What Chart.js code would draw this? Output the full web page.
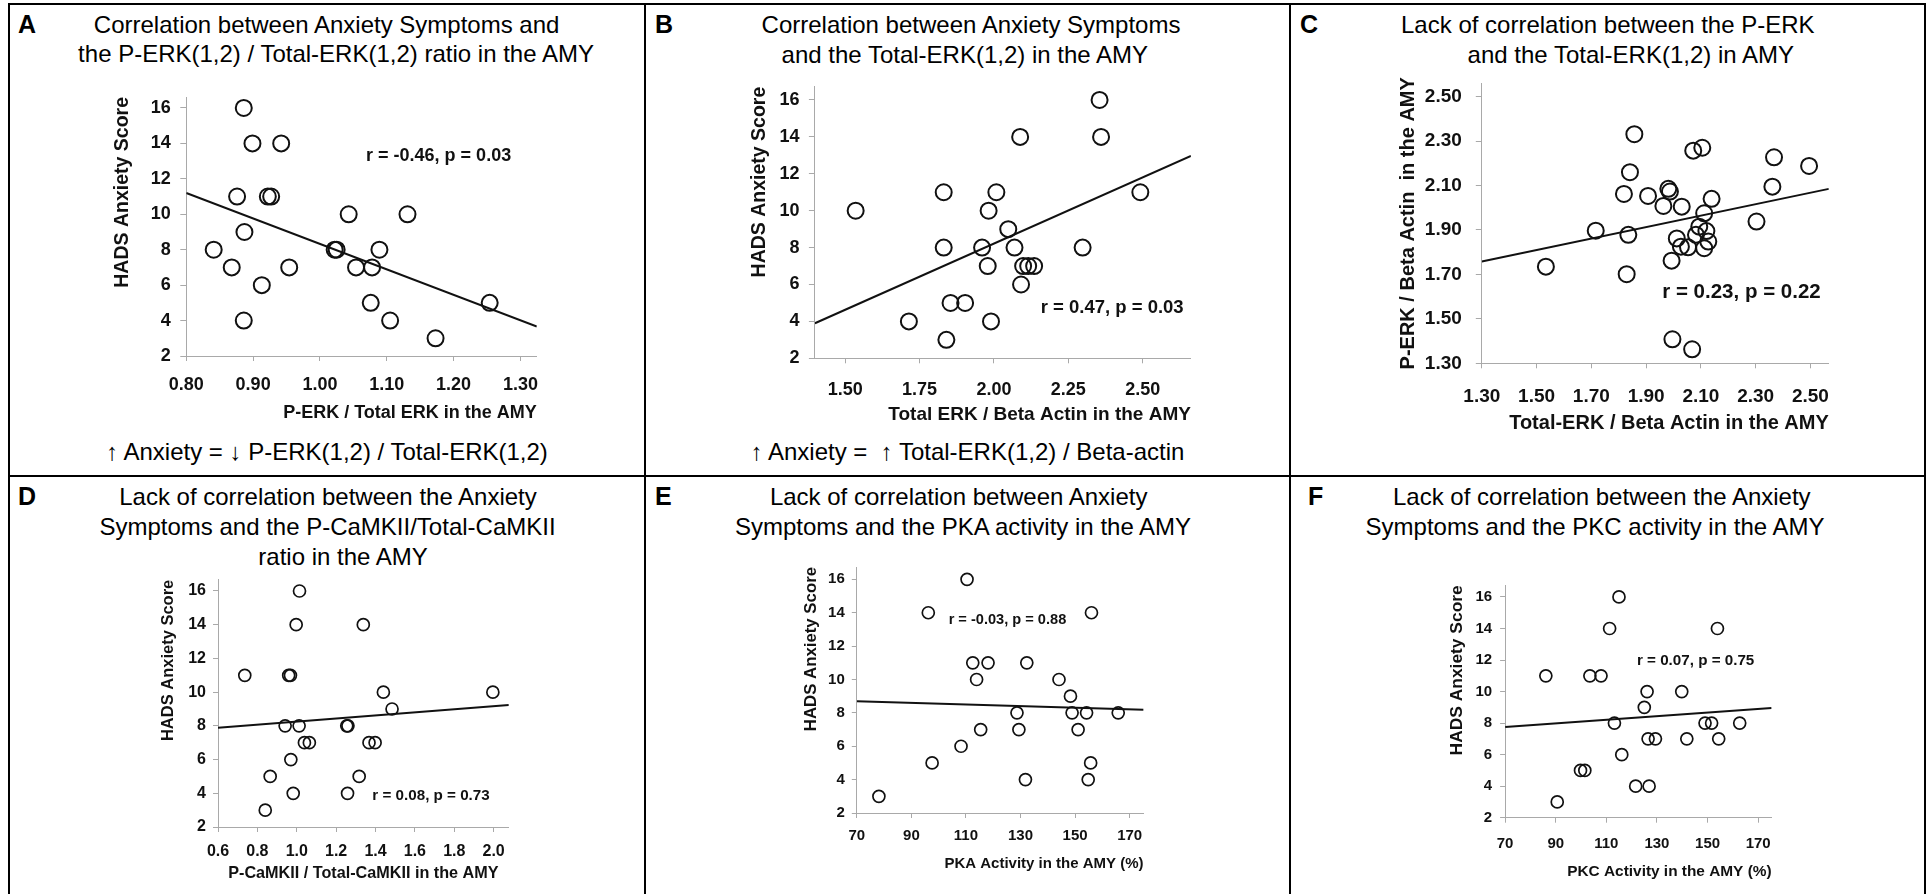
<!DOCTYPE html>
<html><head><meta charset="utf-8">
<script src="https://cdn.jsdelivr.net/npm/chart.js@4.4.1/dist/chart.umd.min.js"></script>
<style>
html,body{margin:0;padding:0;background:#fff;width:1930px;height:894px;overflow:hidden;font-family:'Liberation Sans',Arial,sans-serif;color:#000;}
.ln{position:absolute;background:#000;}
.t{position:absolute;white-space:pre;transform:translate(-50%,-50%);font-size:24px;line-height:1;}
.lt{position:absolute;font-weight:bold;font-size:25px;line-height:1;transform:translateY(-50%);}
canvas{position:absolute;}
</style></head><body>
<div id="root"></div>
<script>
const FONT = "'Liberation Sans', Arial, sans-serif";

// ---------- Panel A: HADS vs P-ERK / Total ERK ----------
const aX = [0.886,0.899,0.942,0.876,0.922,0.927,1.043,1.131,0.887,0.841,1.022,1.025,1.089,0.868,0.954,1.054,1.078,0.913,1.076,1.254,0.886,1.105,1.173];
const aY = [16,14,14,11,11,11,10,10,9,8,8,8,8,7,7,7,7,6,5,5,4,4,3];
const aFitX = [0.80, 1.3245];
const aFitY = [11.20, 3.66];
const aTicksX = [0.80,0.90,1.00,1.10,1.20,1.30];

// ---------- Panel B: HADS vs Total ERK / Beta Actin ----------
const bX = [2.355,2.360,2.088,1.831,2.008,2.492,1.535,1.982,2.048,1.831,1.960,2.069,2.298,1.979,2.098,2.115,2.135,2.091,1.854,1.903,1.714,1.990,1.840];
const bY = [16,14,14,11,11,11,10,10,9,8,8,8,8,7,7,7,7,6,5,5,4,4,3];
const bFitX = [1.398, 2.662];
const bFitY = [3.90, 12.97];
const bTicksX = [1.50,1.75,2.00,2.25,2.50];

// ---------- Panel C: P-ERK vs Total-ERK ----------
const cX = [1.857,2.072,2.105,2.367,2.495,1.841,1.819,1.907,1.981,1.987,1.963,2.030,2.139,2.361,2.112,2.303,1.716,1.835,2.094,2.082,2.120,2.012,2.127,2.112,2.027,2.053,1.993,1.534,1.829,1.996,2.068];
const cY = [2.331,2.257,2.270,2.227,2.188,2.160,2.062,2.053,2.085,2.073,2.008,2.005,2.040,2.095,1.975,1.938,1.897,1.878,1.915,1.878,1.895,1.862,1.848,1.818,1.825,1.822,1.762,1.735,1.701,1.408,1.363];
const cFitX = [1.30, 2.567];
const cFitY = [1.758, 2.085];
const cTicksX = [1.30,1.50,1.70,1.90,2.10,2.30,2.50];
const cTicksY = [1.30,1.50,1.70,1.90,2.10,2.30,2.50];

// ---------- Panel D: HADS vs P-CaMKII / Total-CaMKII ----------
const dX = [1.014,0.997,1.338,0.736,0.959,0.968,1.440,1.996,1.484,0.941,1.012,1.254,1.260,1.039,1.064,1.367,1.398,0.970,0.865,1.317,0.982,1.258,0.840];
const dY = [16,14,14,11,11,11,10,10,9,8,8,8,8,7,7,7,7,6,5,5,4,4,3];
const dFitX = [0.6, 2.077];
const dFitY = [7.89, 9.24];
const dTicksX = [0.6,0.8,1.0,1.2,1.4,1.6,1.8,2.0];

// ---------- Panel E: HADS vs PKA activity ----------
const eX = [110.4,96.2,156.0,112.5,118.1,132.3,113.9,144.1,148.3,128.7,148.9,154.2,165.8,115.4,129.4,151.1,108.2,97.6,155.7,131.8,154.8,78.1];
const eY = [16,14,14,11,11,11,10,10,9,8,8,8,8,7,7,7,6,5,5,4,4,3];
const eFitX = [70, 175.1];
const eFitY = [8.69, 8.19];

// ---------- Panel F: HADS vs PKC activity ----------
const fX = [115.0,111.3,153.9,86.1,103.5,107.9,126.1,139.8,125.0,113.2,149.0,151.6,162.7,126.5,129.4,141.8,154.4,116.1,99.8,101.5,121.6,126.9,90.6];
const fY = [16,14,14,11,11,11,10,10,9,8,8,8,8,7,7,7,7,6,5,5,4,4,3];
const fFitX = [70, 175.3];
const fFitY = [7.75, 8.96];

const pkTicksX = [70,90,110,130,150,170];
const hadsTicks = [2,4,6,8,10,12,14,16];

// ---------- page furniture ----------
const root = document.getElementById('root');
function rect(x,y,w,h){const d=document.createElement('div');d.className='ln';Object.assign(d.style,{left:x+'px',top:y+'px',width:w+'px',height:h+'px'});root.appendChild(d);}
rect(8,3,1918,2); rect(8,3,2,900); rect(1924,3,2,900);
rect(644,3,2,900); rect(1289,3,2,900); rect(8,475,1918,2);

function txt(cx,cy,s,cls){const d=document.createElement('div');d.className=cls||'t';d.textContent=s;d.style.left=cx+'px';d.style.top=cy+'px';root.appendChild(d);}
const titles = [
 [326.6,25,'Correlation between Anxiety Symptoms and'],
 [336,54,'the P-ERK(1,2) / Total-ERK(1,2) ratio in the AMY'],
 [971,25,'Correlation between Anxiety Symptoms'],
 [964.8,55,'and the Total-ERK(1,2) in the AMY'],
 [1607.8,25,'Lack of correlation between the P-ERK'],
 [1630.8,55,'and the Total-ERK(1,2) in AMY'],
 [328,497,'Lack of correlation between the Anxiety'],
 [327.5,527,'Symptoms and the P-CaMKII/Total-CaMKII'],
 [343,557,'ratio in the AMY'],
 [958.7,497,'Lack of correlation between Anxiety'],
 [963,527,'Symptoms and the PKA activity in the AMY'],
 [1601.8,497,'Lack of correlation between the Anxiety'],
 [1595,527,'Symptoms and the PKC activity in the AMY'],
 [327,452,'\u2191 Anxiety = \u2193 P-ERK(1,2) / Total-ERK(1,2)'],
 [967.5,452,'\u2191 Anxiety =  \u2191 Total-ERK(1,2) / Beta-actin']
];
titles.forEach(t=>txt(t[0],t[1],t[2]));
[[18,24,'A'],[655,24,'B'],[1300,24,'C'],[18,496,'D'],[655,496,'E'],[1308,496,'F']].forEach(t=>txt(t[0],t[1],t[2],'lt'));

// ---------- charts ----------
const annotPlugin = {
  id:'annot',
  afterDatasetsDraw(chart,args,o){
    const {ctx} = chart; const sx = chart.scales.x, sy = chart.scales.y;
    ctx.save(); ctx.font = 'bold '+o.size+'px '+FONT; ctx.fillStyle='#111';
    ctx.textAlign='left'; ctx.textBaseline='middle';
    ctx.fillText(o.text, sx.getPixelForValue(o.x), sy.getPixelForValue(o.y));
    ctx.restore();
  }
};

const AXC = '#a9a9a9';
function pts(xs,ys){return xs.map((x,i)=>({x:x,y:ys[i]}));}

function makePanel(p){
  const [bx,by,bw,bh] = p.box;
  const c = document.createElement('canvas');
  c.width=bw; c.height=bh; c.style.left=bx+'px'; c.style.top=by+'px';
  c.style.width=bw+'px'; c.style.height=bh+'px';
  root.appendChild(c);
  const lhY = p.yTitleSize*1.2, lhX = p.xTitleSize*1.2;
  const scaleLeft = p.yTitleX - lhY/2;
  const padLeft = scaleLeft - bx;
  const yW = p.area[0] - scaleLeft;
  const padTop = p.area[1] - by;
  const padRight = bx + bw - p.area[2];
  const xBottom = p.xTitleY + lhX/2;
  const padBottom = by + bh - xBottom;
  const xH = xBottom - p.area[3];
  const tickFont = {family:FONT, size:p.tickSize, weight:'bold'};
  new Chart(c, {
    type:'scatter',
    data:{datasets:[
      {data:pts(p.fitX,p.fitY), showLine:true, borderColor:'#111', borderWidth:2, pointRadius:0, fill:false, tension:0, order:2},
      {data:pts(p.xs,p.ys), showLine:false, pointStyle:'circle', pointRadius:p.r, pointHoverRadius:p.r,
       pointBorderWidth:p.bw, borderColor:'#111', backgroundColor:'rgba(0,0,0,0)', order:1}
    ]},
    options:{
      responsive:false, animation:false, devicePixelRatio:1,
      layout:{padding:{left:padLeft, top:padTop, right:padRight, bottom:padBottom}},
      plugins:{legend:{display:false}, tooltip:{enabled:false},
        annot:{text:p.annot[0], x:p.annot[1], y:p.annot[2], size:p.annot[3]}},
      scales:{
        x:{type:'linear', min:p.xMin, max:p.xMax,
           afterBuildTicks:s=>{s.ticks=p.xTicks.map(v=>({value:v}));},
           afterFit:s=>{s.height=xH;},
           ticks:{font:tickFont, color:'#111', padding:p.xTickPad, maxRotation:0, autoSkip:false,
                  callback:v=>Number(v).toFixed(p.xDec)},
           grid:{display:true, drawOnChartArea:false, drawTicks:true, tickLength:p.xTickLen, color:AXC},
           border:{display:true, color:AXC, width:1},
           title:{display:true, text:p.xTitle, align:p.xAlign, padding:{top:0,bottom:0},
                  font:{family:FONT, size:p.xTitleSize, weight:'bold'}, color:'#111'}},
        y:{type:'linear', min:p.yMin, max:p.yMax,
           afterBuildTicks:s=>{s.ticks=p.yTicks.map(v=>({value:v}));},
           afterFit:s=>{s.width=yW;},
           ticks:{font:tickFont, color:'#111', padding:p.yTickPad, autoSkip:false,
                  callback:v=>Number(v).toFixed(p.yDec)},
           grid:{display:true, drawOnChartArea:false, drawTicks:true, tickLength:p.yTickLen, color:AXC},
           border:{display:true, color:AXC, width:1},
           title:{display:true, text:p.yTitle, align:p.yAlign, padding:{top:0,bottom:0},
                  font:{family:FONT, size:p.yTitleSize, weight:'bold'}, color:'#111'}}
      }
    },
    plugins:[annotPlugin]
  });
}

makePanel({box:[10,5,634,470], area:[186.3,97,536.8,356], xs:aX, ys:aY, fitX:aFitX, fitY:aFitY,
  xMin:0.80, xMax:1.3245, yMin:2, yMax:16.62, xTicks:aTicksX, yTicks:hadsTicks, xDec:2, yDec:0,
  tickSize:18, xTickLen:5, xTickPad:13, yTickLen:6, yTickPad:9.5,
  yTitle:'HADS Anxiety Score', yTitleSize:19.5, yTitleX:122.2, yAlign:'end',
  xTitle:'P-ERK / Total ERK in the AMY', xTitleSize:18, xTitleY:413, xAlign:'end',
  r:8, bw:2, annot:['r = -0.46, p = 0.03', 1.069, 13.30, 18]});

makePanel({box:[646,5,643,470], area:[814.9,86.7,1190.9,358.3], xs:bX, ys:bY, fitX:bFitX, fitY:bFitY,
  xMin:1.398, xMax:2.662, yMin:2, yMax:16.72, xTicks:bTicksX, yTicks:hadsTicks, xDec:2, yDec:0,
  tickSize:18, xTickLen:5, xTickPad:15.5, yTickLen:6, yTickPad:9.5,
  yTitle:'HADS Anxiety Score', yTitleSize:19.5, yTitleX:759.4, yAlign:'end',
  xTitle:'Total ERK / Beta Actin in the AMY', xTitleSize:19, xTitleY:415, xAlign:'end',
  r:8, bw:2, annot:['r = 0.47, p = 0.03', 2.157, 4.73, 18.5]});

makePanel({box:[1291,5,633,470], area:[1481.8,83.3,1828.8,363.3], xs:cX, ys:cY, fitX:cFitX, fitY:cFitY,
  xMin:1.30, xMax:2.567, yMin:1.30, yMax:2.56, xTicks:cTicksX, yTicks:cTicksY, xDec:2, yDec:2,
  tickSize:19, xTickLen:5, xTickPad:17, yTickLen:6, yTickPad:14,
  yTitle:'P-ERK / Beta Actin  in the AMY', yTitleSize:20, yTitleX:1408.4, yAlign:'center',
  xTitle:'Total-ERK / Beta Actin in the AMY', xTitleSize:20, xTitleY:423, xAlign:'end',
  r:8, bw:2, annot:['r = 0.23, p = 0.22', 1.959, 1.618, 20.5]});

makePanel({box:[10,477,634,417], area:[218,579.7,508.8,827], xs:dX, ys:dY, fitX:dFitX, fitY:dFitY,
  xMin:0.6, xMax:2.077, yMin:2, yMax:16.67, xTicks:dTicksX, yTicks:hadsTicks, xDec:1, yDec:0,
  tickSize:16, xTickLen:5, xTickPad:10, yTickLen:5, yTickPad:7,
  yTitle:'HADS Anxiety Score', yTitleSize:16.5, yTitleX:168.7, yAlign:'end',
  xTitle:'P-CaMKII / Total-CaMKII in the AMY', xTitleSize:16.2, xTitleY:873.7, xAlign:'center',
  r:6, bw:1.7, annot:['r = 0.08, p = 0.73', 1.384, 3.88, 15.2]});

makePanel({box:[646,477,643,417], area:[856.8,567,1143.6,813], xs:eX, ys:eY, fitX:eFitX, fitY:eFitY,
  xMin:70, xMax:175.1, yMin:2, yMax:16.74, xTicks:pkTicksX, yTicks:hadsTicks, xDec:0, yDec:0,
  tickSize:15, xTickLen:5, xTickPad:9, yTickLen:5, yTickPad:7,
  yTitle:'HADS Anxiety Score', yTitleSize:16.8, yTitleX:811.6, yAlign:'end',
  xTitle:'PKA Activity in the AMY (%)', xTitleSize:15, xTitleY:863.7, xAlign:'end',
  r:6, bw:1.7, annot:['r = -0.03, p = 0.88', 103.65, 13.54, 14.6]});

makePanel({box:[1291,477,633,417], area:[1505.1,585.3,1771.6,817.7], xs:fX, ys:fY, fitX:fFitX, fitY:fFitY,
  xMin:70, xMax:175.3, yMin:2, yMax:16.74, xTicks:pkTicksX, yTicks:hadsTicks, xDec:0, yDec:0,
  tickSize:15, xTickLen:5, xTickPad:12, yTickLen:5, yTickPad:8,
  yTitle:'HADS Anxiety Score', yTitleSize:17.4, yTitleX:1457.3, yAlign:'end',
  xTitle:'PKC Activity in the AMY (%)', xTitleSize:15.4, xTitleY:872, xAlign:'end',
  r:6, bw:1.7, annot:['r = 0.07, p = 0.75', 122.1, 11.98, 15.2]});
</script>
</body></html>
